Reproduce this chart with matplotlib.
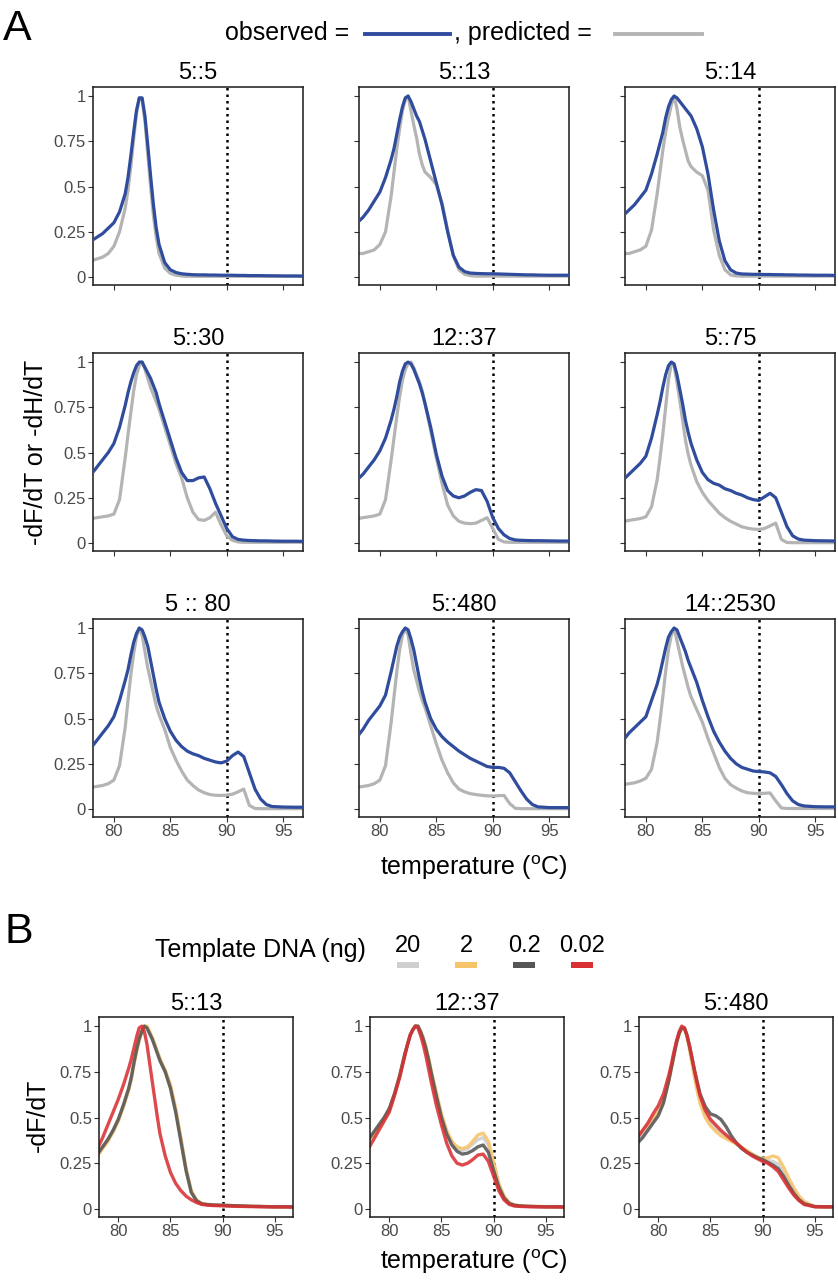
import matplotlib
matplotlib.use('Agg')
import matplotlib.pyplot as plt
from matplotlib.lines import Line2D
from matplotlib.patches import Rectangle

plt.rcParams['font.family'] = ['Liberation Sans', 'DejaVu Sans']

W, H = 838, 1280

# temperature grid (oC) shared by all curves
temp = [78, 78.5, 79, 79.5, 80, 80.5, 81, 81.25, 81.5, 81.75,
        82, 82.25, 82.5, 82.75, 83, 83.25, 83.5, 83.75, 84, 84.5,
        85, 85.5, 86, 86.5, 87, 87.5, 88, 88.5, 89, 89.5,
        90, 90.5, 91, 91.5, 92, 92.5, 93, 93.5, 94, 95, 96, 97]

# ---- panel A : observed / predicted ----
obs_5_5 = [0.20, 0.22, 0.24, 0.27, 0.30, 0.36, 0.46, 0.55, 0.67, 0.80,
           0.92, 0.99, 0.99, 0.89, 0.73, 0.56, 0.40, 0.27, 0.18, 0.08,
           0.04, 0.025, 0.018, 0.015, 0.013, 0.012, 0.012, 0.011, 0.011, 0.010,
           0.010, 0.010, 0.009, 0.009, 0.008, 0.008, 0.008, 0.007, 0.007, 0.006, 0.006, 0.005]
pred_5_5 = [0.09, 0.10, 0.11, 0.13, 0.17, 0.25, 0.38, 0.48, 0.61, 0.76,
            0.90, 0.99, 0.98, 0.86, 0.68, 0.50, 0.34, 0.22, 0.13, 0.05,
            0.02, 0.01, 0.006, 0.004, 0.004, 0.004, 0.004, 0.004, 0.004, 0.004,
            0.004, 0.004, 0.004, 0.004, 0.004, 0.004, 0.004, 0.004, 0.004, 0.004, 0.004, 0.004]

obs_5_13 = [0.30, 0.33, 0.37, 0.42, 0.47, 0.55, 0.65, 0.71, 0.79, 0.87,
            0.94, 0.99, 1.00, 0.97, 0.93, 0.89, 0.86, 0.81, 0.76, 0.64,
            0.52, 0.40, 0.25, 0.12, 0.055, 0.03, 0.022, 0.020, 0.019, 0.018,
            0.018, 0.017, 0.016, 0.015, 0.014, 0.013, 0.012, 0.012, 0.011, 0.010, 0.010, 0.010]
pred_5_13 = [0.13, 0.13, 0.14, 0.15, 0.18, 0.25, 0.45, 0.58, 0.71, 0.82,
             0.92, 0.98, 1.00, 0.92, 0.84, 0.77, 0.68, 0.62, 0.58, 0.55,
             0.51, 0.41, 0.26, 0.12, 0.04, 0.015, 0.008, 0.005, 0.005, 0.005,
             0.005, 0.005, 0.005, 0.005, 0.005, 0.005, 0.005, 0.005, 0.005, 0.005, 0.005, 0.005]

obs_5_14 = [0.34, 0.37, 0.40, 0.44, 0.48, 0.57, 0.68, 0.74, 0.80, 0.88,
            0.94, 0.98, 1.00, 0.99, 0.97, 0.95, 0.93, 0.91, 0.89, 0.82,
            0.72, 0.57, 0.37, 0.20, 0.09, 0.04, 0.022, 0.017, 0.016, 0.015,
            0.015, 0.014, 0.014, 0.013, 0.013, 0.012, 0.012, 0.011, 0.011, 0.010, 0.010, 0.009]
pred_5_14 = [0.13, 0.13, 0.14, 0.15, 0.17, 0.26, 0.46, 0.58, 0.70, 0.80,
             0.88, 0.95, 1.00, 0.93, 0.83, 0.76, 0.70, 0.64, 0.61, 0.58,
             0.56, 0.48, 0.26, 0.12, 0.04, 0.012, 0.006, 0.005, 0.005, 0.005,
             0.005, 0.005, 0.005, 0.005, 0.005, 0.005, 0.005, 0.005, 0.005, 0.005, 0.005, 0.005]

obs_5_30 = [0.38, 0.42, 0.46, 0.50, 0.55, 0.64, 0.76, 0.83, 0.89, 0.94,
            0.98, 1.00, 1.00, 0.97, 0.94, 0.91, 0.87, 0.83, 0.77, 0.67,
            0.57, 0.47, 0.39, 0.345, 0.345, 0.36, 0.365, 0.30, 0.22, 0.15,
            0.08, 0.035, 0.02, 0.016, 0.014, 0.013, 0.012, 0.012, 0.011, 0.010, 0.010, 0.009]
pred_5_30 = [0.135, 0.14, 0.145, 0.15, 0.16, 0.24, 0.47, 0.60, 0.72, 0.84,
             0.93, 0.98, 1.00, 0.96, 0.91, 0.86, 0.82, 0.78, 0.74, 0.64,
             0.54, 0.44, 0.36, 0.25, 0.17, 0.13, 0.125, 0.14, 0.17, 0.10,
             0.04, 0.015, 0.006, 0.004, 0.004, 0.004, 0.004, 0.004, 0.004, 0.004, 0.004, 0.004]

obs_12_37 = [0.35, 0.38, 0.42, 0.46, 0.51, 0.58, 0.68, 0.74, 0.81, 0.89,
             0.95, 0.99, 1.00, 0.99, 0.96, 0.92, 0.88, 0.83, 0.77, 0.64,
             0.49, 0.37, 0.29, 0.26, 0.25, 0.26, 0.28, 0.295, 0.29, 0.23,
             0.14, 0.08, 0.045, 0.025, 0.017, 0.015, 0.014, 0.013, 0.013, 0.012, 0.011, 0.011]
pred_12_37 = [0.135, 0.14, 0.145, 0.15, 0.16, 0.24, 0.46, 0.58, 0.70, 0.81,
              0.90, 0.96, 0.99, 1.00, 0.97, 0.93, 0.89, 0.84, 0.77, 0.62,
              0.47, 0.33, 0.21, 0.15, 0.12, 0.11, 0.107, 0.11, 0.125, 0.14,
              0.08, 0.02, 0.006, 0.004, 0.004, 0.004, 0.004, 0.004, 0.004, 0.004, 0.004, 0.004]

obs_5_75 = [0.35, 0.38, 0.41, 0.44, 0.48, 0.58, 0.71, 0.78, 0.86, 0.93,
            0.98, 1.00, 0.99, 0.93, 0.85, 0.77, 0.68, 0.61, 0.55, 0.46,
            0.39, 0.35, 0.33, 0.32, 0.30, 0.29, 0.275, 0.265, 0.25, 0.24,
            0.235, 0.255, 0.275, 0.25, 0.17, 0.09, 0.04, 0.022, 0.016, 0.013, 0.012, 0.011]
pred_5_75 = [0.12, 0.125, 0.13, 0.135, 0.145, 0.20, 0.35, 0.47, 0.60, 0.75,
             0.90, 0.99, 0.98, 0.89, 0.79, 0.68, 0.57, 0.49, 0.43, 0.34,
             0.28, 0.235, 0.20, 0.165, 0.14, 0.12, 0.105, 0.09, 0.082, 0.077,
             0.075, 0.08, 0.095, 0.11, 0.02, 0.003, 0.002, 0.002, 0.002, 0.002, 0.002, 0.002]

obs_5_80 = [0.34, 0.38, 0.42, 0.46, 0.51, 0.60, 0.71, 0.77, 0.85, 0.92,
            0.97, 1.00, 0.99, 0.95, 0.90, 0.82, 0.74, 0.66, 0.59, 0.50,
            0.43, 0.38, 0.345, 0.32, 0.305, 0.295, 0.28, 0.27, 0.26, 0.255,
            0.265, 0.295, 0.315, 0.29, 0.20, 0.11, 0.055, 0.025, 0.014, 0.011, 0.010, 0.010]
pred_5_80 = [0.12, 0.125, 0.13, 0.14, 0.16, 0.24, 0.45, 0.60, 0.74, 0.86,
             0.95, 1.00, 0.96, 0.87, 0.78, 0.71, 0.64, 0.57, 0.52, 0.44,
             0.34, 0.27, 0.21, 0.16, 0.13, 0.105, 0.09, 0.08, 0.076, 0.075,
             0.077, 0.082, 0.095, 0.11, 0.02, 0.003, 0.002, 0.002, 0.002, 0.002, 0.002, 0.002]

obs_5_480 = [0.40, 0.44, 0.49, 0.53, 0.57, 0.63, 0.76, 0.83, 0.90, 0.95,
             0.98, 1.00, 0.99, 0.94, 0.88, 0.80, 0.72, 0.65, 0.59, 0.50,
             0.44, 0.40, 0.37, 0.345, 0.32, 0.30, 0.28, 0.265, 0.25, 0.235,
             0.23, 0.23, 0.225, 0.20, 0.15, 0.10, 0.055, 0.025, 0.012, 0.008, 0.008, 0.008]
pred_5_480 = [0.12, 0.125, 0.13, 0.14, 0.16, 0.24, 0.48, 0.62, 0.76, 0.88,
              0.96, 1.00, 0.96, 0.86, 0.77, 0.71, 0.65, 0.60, 0.56, 0.46,
              0.36, 0.27, 0.20, 0.145, 0.11, 0.095, 0.085, 0.08, 0.076, 0.073,
              0.072, 0.074, 0.075, 0.03, 0.004, 0.002, 0.002, 0.002, 0.002, 0.002, 0.002, 0.002]

obs_14_2530 = [0.38, 0.42, 0.45, 0.48, 0.51, 0.60, 0.69, 0.75, 0.82, 0.89,
               0.95, 0.98, 1.00, 0.99, 0.95, 0.91, 0.87, 0.82, 0.78, 0.70,
               0.60, 0.51, 0.43, 0.37, 0.32, 0.28, 0.25, 0.23, 0.22, 0.21,
               0.207, 0.205, 0.20, 0.18, 0.135, 0.085, 0.045, 0.025, 0.017, 0.013, 0.012, 0.012]
pred_14_2530 = [0.135, 0.14, 0.145, 0.155, 0.17, 0.22, 0.37, 0.49, 0.62, 0.76,
                0.88, 0.96, 1.00, 0.93, 0.86, 0.79, 0.73, 0.67, 0.62, 0.55,
                0.48, 0.39, 0.31, 0.23, 0.17, 0.135, 0.115, 0.10, 0.09, 0.087,
                0.085, 0.087, 0.089, 0.045, 0.006, 0.003, 0.003, 0.003, 0.003, 0.003, 0.003, 0.003]

titles_a = ['5::5', '5::13', '5::14', '5::30', '12::37', '5::75', '5 :: 80', '5::480', '14::2530']
observed = [obs_5_5, obs_5_13, obs_5_14, obs_5_30, obs_12_37, obs_5_75, obs_5_80, obs_5_480, obs_14_2530]
predicted = [pred_5_5, pred_5_13, pred_5_14, pred_5_30, pred_12_37, pred_5_75, pred_5_80, pred_5_480, pred_14_2530]

# ---- panel B : template DNA dilutions ----
dna_levels = ['20', '2', '0.2', '0.02']
dna_colors = ['#cfcfcf', '#f7c36b', '#555555', '#d93033']

dna_5_13_20 = [0.30, 0.34, 0.38, 0.43, 0.49, 0.57, 0.66, 0.72, 0.80, 0.87,
               0.93, 0.97, 1.00, 0.99, 0.96, 0.93, 0.90, 0.86, 0.82, 0.75,
               0.67, 0.54, 0.38, 0.21, 0.095, 0.045, 0.03, 0.025, 0.022, 0.021,
               0.020, 0.019, 0.018, 0.017, 0.016, 0.015, 0.014, 0.014, 0.013, 0.012, 0.012, 0.011]
dna_5_13_2 = [0.29, 0.33, 0.37, 0.42, 0.48, 0.56, 0.65, 0.71, 0.79, 0.86,
              0.92, 0.97, 1.00, 1.00, 0.97, 0.94, 0.90, 0.86, 0.82, 0.76,
              0.68, 0.55, 0.39, 0.22, 0.10, 0.05, 0.03, 0.025, 0.022, 0.021,
              0.020, 0.019, 0.018, 0.017, 0.016, 0.015, 0.014, 0.014, 0.013, 0.012, 0.012, 0.011]
dna_5_13_0p2 = [0.30, 0.34, 0.38, 0.43, 0.49, 0.57, 0.66, 0.72, 0.80, 0.87,
                0.93, 0.97, 1.00, 0.99, 0.96, 0.93, 0.89, 0.85, 0.81, 0.75,
                0.66, 0.53, 0.37, 0.21, 0.09, 0.045, 0.028, 0.024, 0.022, 0.021,
                0.020, 0.019, 0.018, 0.017, 0.016, 0.015, 0.014, 0.014, 0.013, 0.012, 0.012, 0.011]
dna_5_13_0p02 = [0.33, 0.39, 0.46, 0.53, 0.60, 0.68, 0.77, 0.82, 0.88, 0.94,
                 0.99, 1.00, 0.97, 0.90, 0.80, 0.70, 0.60, 0.50, 0.41, 0.29,
                 0.20, 0.14, 0.10, 0.07, 0.05, 0.035, 0.025, 0.021, 0.019, 0.018,
                 0.017, 0.016, 0.015, 0.014, 0.014, 0.013, 0.013, 0.012, 0.012, 0.011, 0.011, 0.010]

dna_12_37_20 = [0.37, 0.41, 0.45, 0.49, 0.54, 0.63, 0.73, 0.79, 0.85, 0.90,
                0.95, 0.98, 1.00, 1.00, 0.97, 0.93, 0.88, 0.82, 0.76, 0.63,
                0.51, 0.42, 0.36, 0.33, 0.32, 0.33, 0.355, 0.38, 0.39, 0.35,
                0.24, 0.13, 0.065, 0.033, 0.021, 0.017, 0.015, 0.014, 0.013, 0.012, 0.012, 0.011]
dna_12_37_2 = [0.37, 0.41, 0.45, 0.49, 0.54, 0.63, 0.73, 0.79, 0.85, 0.90,
               0.95, 0.98, 1.00, 1.00, 0.97, 0.94, 0.89, 0.83, 0.76, 0.64,
               0.52, 0.43, 0.37, 0.34, 0.33, 0.34, 0.37, 0.405, 0.415, 0.37,
               0.26, 0.14, 0.07, 0.035, 0.022, 0.018, 0.016, 0.015, 0.014, 0.013, 0.012, 0.012]
dna_12_37_0p2 = [0.38, 0.42, 0.46, 0.50, 0.55, 0.63, 0.73, 0.79, 0.85, 0.90,
                 0.95, 0.98, 1.00, 1.00, 0.97, 0.93, 0.88, 0.82, 0.75, 0.62,
                 0.50, 0.41, 0.35, 0.315, 0.30, 0.305, 0.32, 0.34, 0.35, 0.31,
                 0.21, 0.12, 0.06, 0.03, 0.02, 0.017, 0.015, 0.014, 0.013, 0.012, 0.012, 0.011]
dna_12_37_0p02 = [0.33, 0.38, 0.43, 0.48, 0.53, 0.62, 0.72, 0.78, 0.84, 0.90,
                  0.95, 0.98, 1.00, 0.99, 0.95, 0.90, 0.84, 0.77, 0.70, 0.57,
                  0.46, 0.36, 0.29, 0.25, 0.24, 0.25, 0.27, 0.295, 0.30, 0.26,
                  0.18, 0.10, 0.05, 0.025, 0.016, 0.014, 0.013, 0.012, 0.012, 0.011, 0.011, 0.010]

dna_5_480_20 = [0.38, 0.41, 0.45, 0.49, 0.53, 0.59, 0.71, 0.78, 0.85, 0.91,
                0.96, 0.99, 0.99, 0.95, 0.88, 0.81, 0.73, 0.66, 0.60, 0.52,
                0.47, 0.44, 0.42, 0.395, 0.375, 0.355, 0.335, 0.315, 0.30, 0.285,
                0.27, 0.265, 0.26, 0.245, 0.20, 0.15, 0.10, 0.06, 0.033, 0.013, 0.012, 0.012]
dna_5_480_2 = [0.40, 0.43, 0.46, 0.49, 0.53, 0.59, 0.70, 0.77, 0.84, 0.91,
               0.96, 0.99, 0.99, 0.94, 0.87, 0.79, 0.71, 0.64, 0.58, 0.50,
               0.455, 0.425, 0.40, 0.385, 0.37, 0.355, 0.335, 0.32, 0.30, 0.285,
               0.275, 0.28, 0.29, 0.28, 0.23, 0.17, 0.115, 0.07, 0.04, 0.014, 0.012, 0.012]
dna_5_480_0p2 = [0.36, 0.39, 0.43, 0.47, 0.51, 0.58, 0.70, 0.77, 0.84, 0.91,
                 0.96, 0.99, 0.99, 0.95, 0.89, 0.82, 0.75, 0.69, 0.63, 0.56,
                 0.52, 0.51, 0.49, 0.45, 0.40, 0.36, 0.33, 0.31, 0.295, 0.28,
                 0.27, 0.255, 0.24, 0.22, 0.18, 0.13, 0.085, 0.05, 0.028, 0.013, 0.012, 0.012]
dna_5_480_0p02 = [0.39, 0.43, 0.47, 0.52, 0.565, 0.63, 0.73, 0.79, 0.86, 0.92,
                  0.97, 1.00, 0.99, 0.95, 0.89, 0.82, 0.75, 0.68, 0.62, 0.54,
                  0.49, 0.46, 0.43, 0.405, 0.38, 0.36, 0.335, 0.31, 0.29, 0.275,
                  0.26, 0.25, 0.23, 0.205, 0.16, 0.115, 0.075, 0.045, 0.024, 0.012, 0.011, 0.011]

titles_b = ['5::13', '12::37', '5::480']
curves_b = [[dna_5_13_20, dna_5_13_2, dna_5_13_0p2, dna_5_13_0p02],
            [dna_12_37_20, dna_12_37_2, dna_12_37_0p2, dna_12_37_0p02],
            [dna_5_480_20, dna_5_480_2, dna_5_480_0p2, dna_5_480_0p02]]

BLUE = '#2f4c9d'
GREY = '#b4b4b4'

fig = plt.figure(figsize=(W / 100, H / 100), dpi=100)


def add_ax(left, top, right, bottom):
    # pixel box -> figure fraction
    return fig.add_axes([left / W, 1 - bottom / H, (right - left) / W, (bottom - top) / H])


def style(ax, xlab, ylab):
    ax.set_xlim(78.15, 96.75)
    ax.set_ylim(-0.044, 1.05)
    ax.set_xticks([80, 85, 90, 95])
    ax.set_yticks([0, 0.25, 0.5, 0.75, 1])
    ax.set_yticklabels(['0', '0.25', '0.5', '0.75', '1'] if ylab else [])
    if not xlab:
        ax.set_xticklabels([])
    ax.tick_params(length=3.5, width=0.8, color='#333333', labelsize=12,
                   labelcolor='#4a4a4a', pad=1.5)
    for s in ax.spines.values():
        s.set_linewidth(1.1)
        s.set_color('#1a1a1a')
    ax.axvline(90, color='black', lw=1.8, ls=(0, (1, 1.6)), zorder=1)


# panel A grid
col_left = [93, 359, 625]
row_top = [87, 353, 619]
for i, name in enumerate(titles_a):
    r, c = divmod(i, 3)
    ax = add_ax(col_left[c], row_top[r], col_left[c] + 210, row_top[r] + 198)
    style(ax, r == 2, c == 0)
    ax.plot(temp, predicted[i], color=GREY, lw=2.3, zorder=2, solid_joinstyle='round')
    ax.plot(temp, observed[i], color=BLUE, lw=2.3, zorder=3, solid_joinstyle='round')
    ax.set_title(name, fontsize=17, pad=6)

# panel B row
b_left = [99, 370, 639]
for i, name in enumerate(titles_b):
    ax = add_ax(b_left[i], 1017, b_left[i] + 194, 1217)
    style(ax, True, True)
    for vals, col in zip(curves_b[i], dna_colors):
        ax.plot(temp, vals, color=col, lw=2.4, alpha=0.88, zorder=2, solid_joinstyle='round')
    ax.set_title(name, fontsize=17, pad=5)

# panel letters and axis labels
fig.text(3 / W, 1 - 40 / H, 'A', fontsize=31, va='baseline')
fig.text(4 / W, 1 - 943 / H, 'B', fontsize=31, va='baseline')
fig.text(36 / W, 1 - 452 / H, '-dF/dT or -dH/dT', fontsize=18, rotation=90, ha='center', va='center')
fig.text(474 / W, 1 - 875 / H, r'temperature ($\mathregular{^{o}}$C)', fontsize=18, ha='center', va='baseline')
fig.text(38 / W, 1 - 1115 / H, '-dF/dT', fontsize=18, rotation=90, ha='center', va='center')
fig.text(474 / W, 1 - 1269 / H, r'temperature ($\mathregular{^{o}}$C)', fontsize=18, ha='center', va='baseline')

# legend A
fig.text(349 / W, 1 - 40 / H, 'observed =', fontsize=18, ha='right', va='baseline')
fig.add_artist(Line2D([365 / W, 450 / W], [1 - 34 / H, 1 - 34 / H], color=BLUE, lw=2.8))
fig.text(454 / W, 1 - 40 / H, ', predicted =', fontsize=18, ha='left', va='baseline')
fig.add_artist(Line2D([615 / W, 702 / W], [1 - 34 / H, 1 - 34 / H], color=GREY, lw=2.8))

# legend B
fig.text(155 / W, 1 - 957 / H, 'Template DNA (ng)', fontsize=18, ha='left', va='baseline')
label_x = [408, 466, 524, 582]
for lab, col, x in zip(dna_levels, dna_colors, label_x):
    fig.text(x / W, 1 - 952 / H, lab, fontsize=17, ha='center', va='baseline')
    fig.add_artist(Rectangle(((x - 11) / W, 1 - 968 / H), 22 / W, 6 / H,
                             transform=fig.transFigure, color=col, lw=0))

fig.savefig('out.png', dpi=100)
